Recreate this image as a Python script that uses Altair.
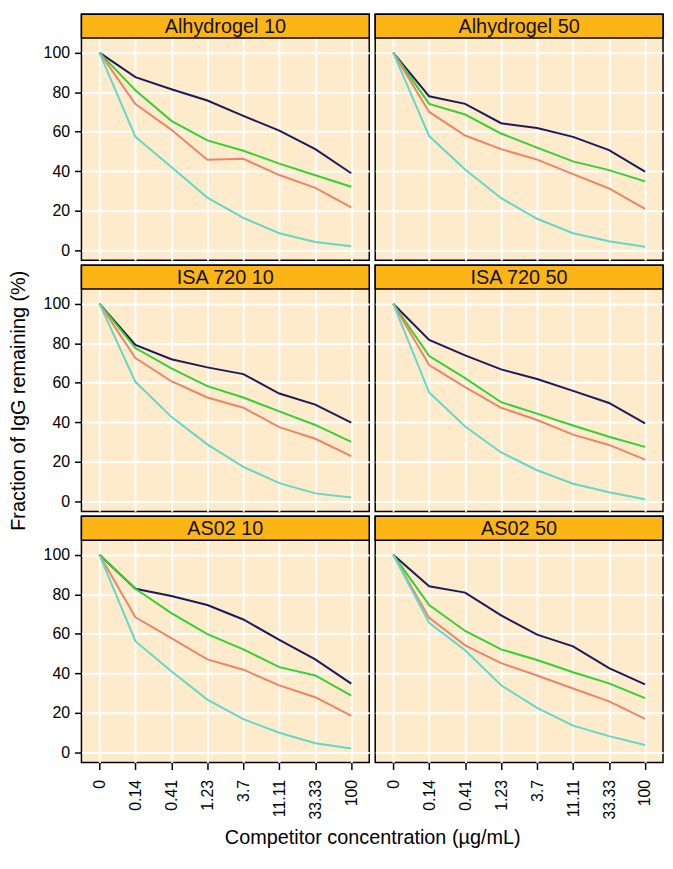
import altair as alt
import pandas as pd

conc = ["0", "0.14", "0.41", "1.23", "3.7", "11.11", "33.33", "100"]
panels = ["Alhydrogel 10", "Alhydrogel 50", "ISA 720 10", "ISA 720 50", "AS02 10", "AS02 50"]
series = ["Series 1", "Series 2", "Series 3", "Series 4"]
colors = ["#1C1A5C", "#33D133", "#EC8566", "#64D7C6"]
yticks = [0, 20, 40, 60, 80, 100]

alhy10_s1 = [100, 87.6, 81.5, 75.8, 68.0, 60.6, 51.2, 39.0]
alhy10_s2 = [100, 81.0, 65.5, 55.6, 50.4, 43.9, 38.0, 32.2]
alhy10_s3 = [100, 74.0, 61.0, 45.8, 46.3, 38.1, 31.6, 21.8]
alhy10_s4 = [100, 57.4, 42.2, 26.7, 16.4, 8.7, 4.3, 2.1]

alhy50_s1 = [100, 77.9, 74.1, 64.3, 61.9, 57.4, 50.7, 39.8]
alhy50_s2 = [100, 74.1, 68.7, 59.1, 52.0, 45.0, 40.6, 34.9]
alhy50_s3 = [100, 70.0, 58.1, 51.2, 45.9, 38.6, 31.3, 21.0]
alhy50_s4 = [100, 57.8, 40.9, 26.4, 16.0, 8.7, 4.6, 1.8]

isa10_s1 = [100, 79.2, 71.9, 67.8, 64.4, 54.6, 49.0, 39.9]
isa10_s2 = [100, 77.6, 67.3, 58.3, 52.6, 45.6, 38.7, 30.1]
isa10_s3 = [100, 72.5, 60.8, 52.6, 47.4, 37.6, 31.7, 22.9]
isa10_s4 = [100, 60.5, 42.8, 28.9, 17.5, 9.3, 4.1, 2.0]

isa50_s1 = [100, 81.7, 73.9, 66.8, 61.9, 55.9, 49.8, 39.5]
isa50_s2 = [100, 73.5, 62.4, 50.2, 44.4, 38.4, 32.7, 27.6]
isa50_s3 = [100, 69.0, 57.8, 47.4, 41.2, 33.8, 28.6, 21.2]
isa50_s4 = [100, 55.1, 37.9, 24.8, 15.8, 9.0, 4.7, 1.1]

as10_s1 = [100, 82.8, 79.2, 74.6, 67.3, 57.0, 47.1, 34.9]
as10_s2 = [100, 82.8, 70.5, 59.9, 52.2, 43.2, 39.0, 28.8]
as10_s3 = [100, 68.4, 57.9, 47.1, 41.9, 34.0, 28.0, 18.5]
as10_s4 = [100, 56.3, 41.1, 26.8, 16.9, 10.0, 4.7, 2.1]

as50_s1 = [100, 84.1, 80.9, 69.4, 59.6, 53.7, 42.7, 34.5]
as50_s2 = [100, 74.6, 61.5, 52.2, 46.8, 40.6, 35.0, 27.5]
as50_s3 = [100, 68.1, 54.2, 45.2, 39.0, 32.4, 25.9, 17.0]
as50_s4 = [100, 65.6, 51.7, 34.0, 22.6, 13.6, 8.3, 3.8]

panel_values = {
    "Alhydrogel 10": [alhy10_s1, alhy10_s2, alhy10_s3, alhy10_s4],
    "Alhydrogel 50": [alhy50_s1, alhy50_s2, alhy50_s3, alhy50_s4],
    "ISA 720 10": [isa10_s1, isa10_s2, isa10_s3, isa10_s4],
    "ISA 720 50": [isa50_s1, isa50_s2, isa50_s3, isa50_s4],
    "AS02 10": [as10_s1, as10_s2, as10_s3, as10_s4],
    "AS02 50": [as50_s1, as50_s2, as50_s3, as50_s4],
}

rows = []
for p in panels:
    for s, vals in zip(series, panel_values[p]):
        for i, (c, v) in enumerate(zip(conc, vals)):
            rows.append({"panel": p, "series": s, "conc": c, "idx": i, "value": v})
data = pd.DataFrame(rows)

BG = "#FDEBCB"
HDR = "#FDB515"
FONT = "Liberation Sans"
W = 290
H = 224          # data area height
HH = 24          # header strip height
YMIN, YMAX = -5.0, 107.4
YTOP = YMAX + HH * (YMAX - YMIN) / H   # domain extended so the strip sits above the data area


def make_panel(name, k):
    r, c = divmod(k, 2)
    show_y = c == 0
    show_x = r == 2
    ykw = dict(values=yticks, grid=True, gridColor="white", gridWidth=2, gridOpacity=1,
               domain=False, ticks=show_y, labels=show_y, tickColor="black",
               tickSize=7, tickWidth=1.5, labelFontSize=16, labelPadding=5,
               labelColor="black", labelFont=FONT)
    xkw = dict(grid=True, gridColor="white", gridWidth=2, gridOpacity=1,
               domain=False, ticks=show_x, labels=show_x, tickColor="black",
               tickSize=7, tickWidth=1.5, labelFontSize=16, labelPadding=10,
               labelColor="black", labelFont=FONT, labelAngle=270,
               labelAlign="right", labelBaseline="middle")
    xenc = dict(sort=conc, scale=alt.Scale(type="point", padding=0.5))
    yenc = dict(scale=alt.Scale(domain=[YMIN, YTOP], nice=False, zero=False))
    if r == 1 and c == 0:
        yenc["axis"] = alt.Axis(
            title="Fraction of IgG remaining (%)", titleX=-57, titleY=HH + H / 2,
            titleAngle=270, titleAlign="center", titleBaseline="alphabetic",
            titleFontSize=20, titleFontWeight="normal", titleColor="black",
            titleFont=FONT, **ykw)
    else:
        yenc["axis"] = alt.Axis(**ykw)
        yenc["title"] = None
    if r == 2 and c == 0:
        xenc["axis"] = alt.Axis(
            title="Competitor concentration (\u00b5g/mL)", titleX=W + 3,
            titleY=82, titleAlign="center", titleBaseline="alphabetic",
            titleFontSize=20, titleFontWeight="normal", titleColor="black",
            titleFont=FONT, **xkw)
    else:
        xenc["axis"] = alt.Axis(**xkw)
        xenc["title"] = None

    lines = alt.Chart(data[data.panel == name]).mark_line(strokeWidth=2).encode(
        x=alt.X("conc:O", **xenc),
        y=alt.Y("value:Q", **yenc),
        color=alt.Color("series:N", scale=alt.Scale(domain=series, range=colors), legend=None),
        order=alt.Order("idx:Q"),
    )

    hdf = pd.DataFrame({"panel": [name]})
    strip = alt.Chart(hdf).mark_rect(fill=HDR, stroke="black", strokeWidth=1.5).encode(
        x=alt.value(0), x2=alt.value(W), y=alt.value(0), y2=alt.value(HH)
    )
    label = alt.Chart(hdf).mark_text(
        fontSize=20, color="#111111", font=FONT, baseline="middle", align="center"
    ).encode(text="panel:N", x=alt.value(W / 2), y=alt.value(HH / 2 + 1))

    return alt.layer(lines, strip, label).properties(
        width=W, height=H + HH,
        view=alt.ViewBackground(fill=BG, stroke="black", strokeWidth=1.5))


ps = [make_panel(p, k) for k, p in enumerate(panels)]
chart = alt.concat(*ps, columns=2, spacing={"row": 5, "column": 6}, bounds="flush").properties(
    padding={"left": 0, "top": 1, "right": 0, "bottom": 0}
).configure(font=FONT)

chart.save("out.html", embed_options={"renderer": "svg", "actions": False})
